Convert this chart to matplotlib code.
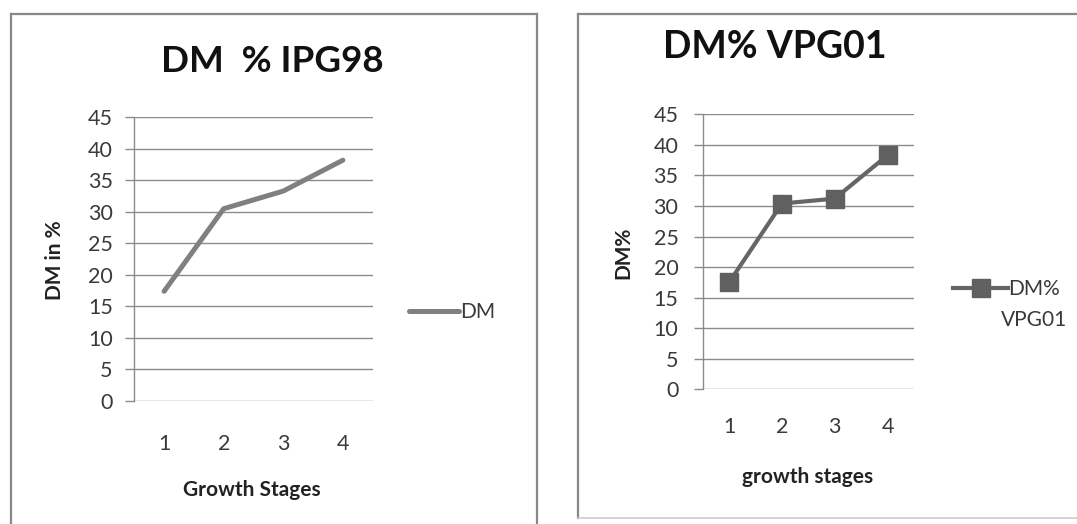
import matplotlib
matplotlib.use("Agg")
import matplotlib.pyplot as plt
from matplotlib.lines import Line2D

# ---- data ----
stages = [1, 2, 3, 4]
dm_ipg98 = [17.4, 30.5, 33.3, 38.2]
dm_vpg01 = [17.5, 30.4, 31.2, 38.3]
yticks = [0, 5, 10, 15, 20, 25, 30, 35, 40, 45]

W, H = 1077, 524
plt.rcParams['font.family'] = ['Lato', 'DejaVu Sans']
fig = plt.figure(figsize=(W / 100, H / 100), dpi=100)
fig.patch.set_facecolor('white')


def fx(x):
    return x / W


def fy(y):
    return 1 - y / H


def add_ax(x0, x1, ytop, ybot):
    return fig.add_axes([fx(x0), fy(ybot), fx(x1) - fx(x0), fy(ytop) - fy(ybot)])


GRID = '#8c8c8c'
TXT = '#3a3a3a'


def style(ax, ypad):
    ax.set_xlim(0.5, 4.5)
    ax.set_ylim(0, 45)
    ax.set_yticks(yticks)
    ax.set_xticks(stages)
    ax.grid(axis='y', color=GRID, lw=1.0)
    ax.set_axisbelow(True)
    for s in ['top', 'right', 'bottom']:
        ax.spines[s].set_visible(False)
    ax.spines['left'].set_color(GRID)
    ax.spines['left'].set_linewidth(1.0)
    ax.tick_params(axis='y', length=6.5, width=1.0, color=GRID, labelsize=15.5,
                   labelcolor=TXT, pad=ypad)
    ax.tick_params(axis='x', length=0, labelsize=15.5, labelcolor=TXT, pad=20)
    ax.set_facecolor('none')


# ---- left panel ----
ax1 = add_ax(134.3, 372.7, 117.3, 401)
style(ax1, 9)
ax1.plot(stages, dm_ipg98, color='#808080', lw=3.6, solid_capstyle='round', label='DM')
ax1.tick_params(axis='x', pad=24)
fig.text(fx(272), fy(62), 'DM  % IPG98', ha='center', va='center', fontsize=26.5,
         fontweight='bold', color='#111111')
fig.text(fx(55), fy(260), 'DM in %', rotation=90, ha='center', va='center',
         fontsize=15, fontweight='bold', color='#222222')
fig.text(fx(252), fy(490), 'Growth Stages', ha='center', va='center',
         fontsize=15, fontweight='bold', color='#222222')
ax1.legend(loc='center left', bbox_to_anchor=(fx(399), fy(312)),
           bbox_transform=fig.transFigure, frameon=False, handlelength=2.4,
           handletextpad=0.05, fontsize=15, labelcolor=TXT, borderpad=0)

# ---- right panel ----
ax2 = add_ax(702.7, 914, 114.3, 389.3)
style(ax2, 11)
ax2.plot(stages, dm_vpg01, color='#666666', lw=3.0, marker='s', markersize=12.5,
         markerfacecolor='#606060', markeredgecolor='#606060', label='DM%')
fig.text(fx(775), fy(47), 'DM% VPG01', ha='center', va='center', fontsize=27,
         fontweight='bold', color='#111111')
fig.text(fx(623), fy(253), 'DM%', rotation=90, ha='center', va='center',
         fontsize=15, fontweight='bold', color='#222222')
fig.text(fx(808), fy(477), 'growth stages', ha='center', va='center',
         fontsize=15, fontweight='bold', color='#222222')
ax2.legend(loc='center left', bbox_to_anchor=(fx(943), fy(289)),
           bbox_transform=fig.transFigure, frameon=False, handlelength=2.6,
           handletextpad=0.05, fontsize=15, labelcolor=TXT, borderpad=0,
           markerscale=1.0)
fig.text(fx(1001), fy(320), 'VPG01', ha='left', va='center', fontsize=15, color=TXT)

# ---- panel borders ----
BORDER = '#888888'
fig.add_artist(Line2D([fx(10.5), fx(10.5)], [fy(14), fy(524)], color=BORDER, lw=1.6))
fig.add_artist(Line2D([fx(10.5), fx(537)], [fy(14), fy(14)], color=BORDER, lw=1.6))
fig.add_artist(Line2D([fx(537), fx(537)], [fy(14), fy(524)], color=BORDER, lw=1.6))
fig.add_artist(Line2D([fx(578), fx(578)], [fy(14), fy(518)], color=BORDER, lw=1.6))
fig.add_artist(Line2D([fx(578), fx(1077)], [fy(14), fy(14)], color=BORDER, lw=1.6))
fig.add_artist(Line2D([fx(578), fx(1077)], [fy(518), fy(518)], color='#cccccc', lw=1.2))

fig.savefig('out.png', dpi=100, facecolor='white')
